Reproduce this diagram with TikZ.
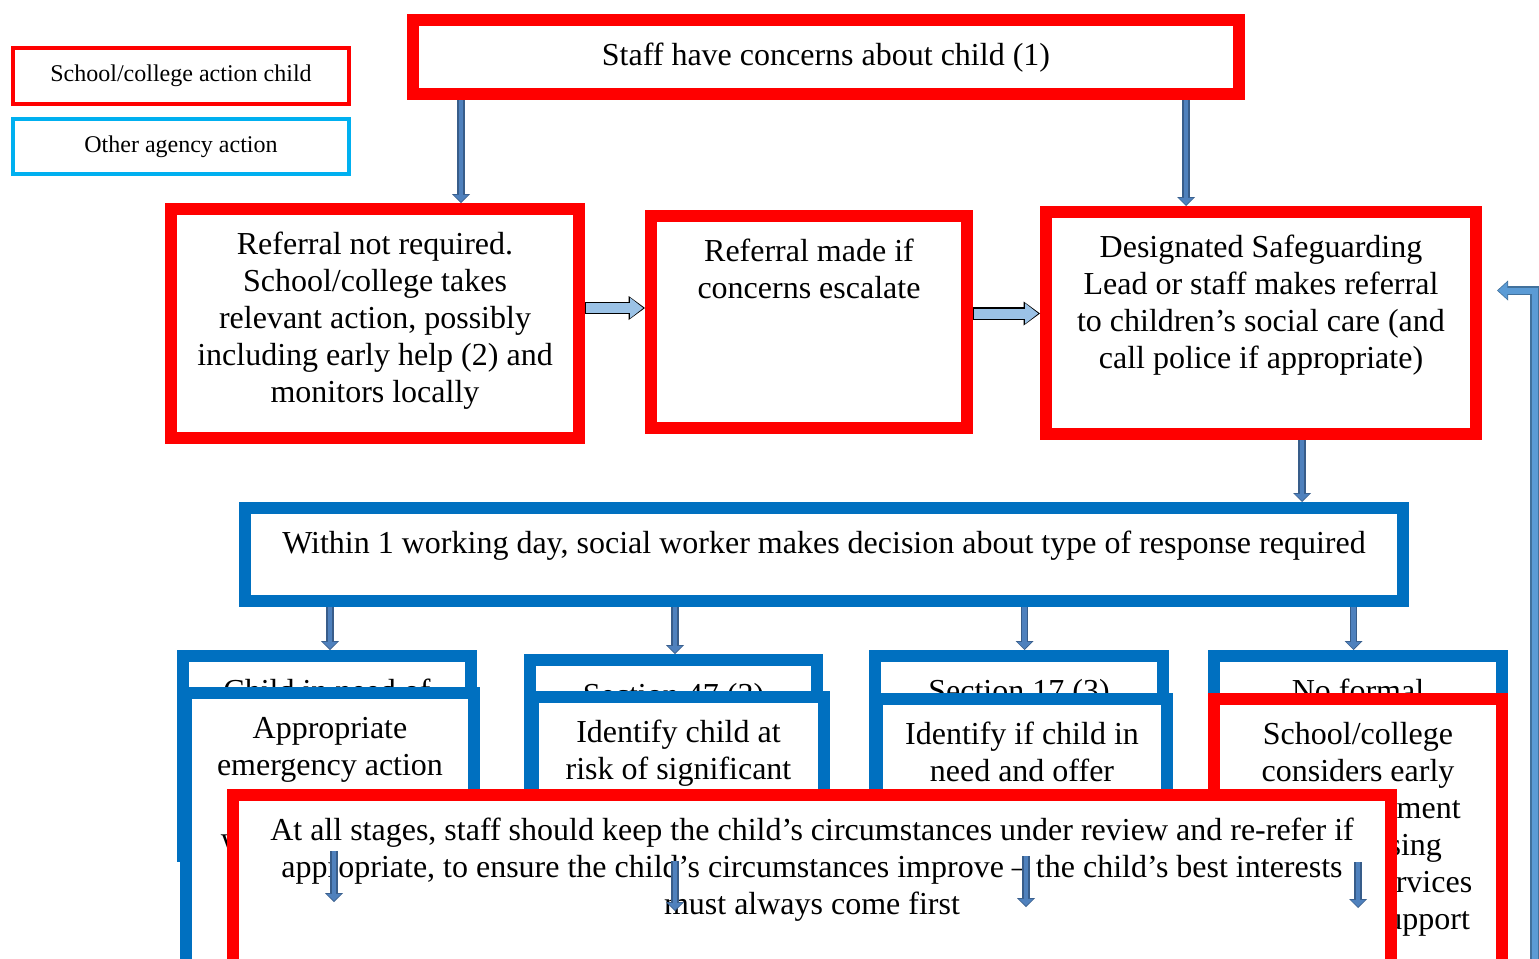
\documentclass[tikz,border=0pt]{standalone}
\usepackage{fontspec}
\setmainfont{Liberation Serif}
\usetikzlibrary{positioning,arrows.meta}

\definecolor{schoolred}{RGB}{255,0,0}
\definecolor{agencyblue}{RGB}{0,112,192}
\definecolor{legendcyan}{RGB}{0,176,240}
\definecolor{arrowfill}{RGB}{79,129,189}
\definecolor{arrowedge}{RGB}{56,93,138}
\definecolor{passfill}{RGB}{155,194,230}
\definecolor{loopfill}{RGB}{91,155,213}
\definecolor{loopedge}{RGB}{65,113,156}

\tikzset{
  redbox/.style={rectangle,draw=schoolred,line width=6pt,fill=white},
  bluebox/.style={rectangle,draw=agencyblue,line width=6pt,fill=white},
  keybox/.style={rectangle,line width=2pt,minimum width=168pt,font=\fontsize{12pt}{14pt}\selectfont},
  boxtext/.style={font=\fontsize{16pt}{18.5pt}\selectfont,align=center,inner sep=0pt},
  flowarrow/.style={draw=arrowfill,line width=2.4pt,shorten >=0.6pt,
    -{Triangle[width=7.4pt,length=3.5pt,line width=0pt]},
    preaction={draw=arrowedge,line width=3.6pt,shorten >=0pt,
      -{Triangle[width=9pt,length=4.5pt,line width=0pt]}}},
  passarrow/.style={draw=passfill,line width=5pt,shorten >=0.9pt,shorten <=0.6pt,
    -{Triangle[width=10.3pt,length=6.6pt,line width=0pt]},
    preaction={draw=black,line width=6.2pt,shorten >=0pt,shorten <=0pt,
      -{Triangle[width=12pt,length=8.2pt,line width=0pt]}}},
  loopback/.style={draw=loopfill,line width=3pt,line join=miter,shorten >=0.6pt,
    -{Triangle[width=8.5pt,length=4.6pt,line width=0pt]},
    preaction={draw=loopedge,line width=4.5pt,shorten >=0pt,
      -{Triangle[width=10pt,length=5.5pt,line width=0pt]}}}
}

\begin{document}
\begin{tikzpicture}[x=0.5pt,y=-0.5pt]
\useasboundingbox (0,0) rectangle (1539,959);
\clip (0,0) rectangle (1539,959);

% key
\node[keybox,draw=schoolred,minimum height=28pt] (keyschool) at (181,76) {School/college action child};
\node[keybox,draw=legendcyan,minimum height=27.5pt] (keyagency) at (181,146.5) {Other agency action};

% school/college action
\node[redbox,minimum width=413pt,minimum height=37pt] (concern) at (826,57) {};
\node[boxtext,below=12.5pt of concern.north] (concerntxt) {\strut Staff have concerns about child (1)};

\node[redbox,minimum width=204pt,minimum height=114.5pt] (refno) at (375,323.5) {};
\node[boxtext,below=12.5pt of refno.north] (refnotxt) {\strut Referral not required.\\School/college takes\\relevant action, possibly\\including early help (2) and\\monitors locally};

\node[redbox,minimum width=158pt,minimum height=106pt] (escal) at (809,322) {};
\node[boxtext,below=12.5pt of escal.north] (escaltxt) {\strut Referral made if\\concerns escalate};

\node[redbox,minimum width=215pt,minimum height=111pt] (dsl) at (1261,323) {};
\node[boxtext,below=12.5pt of dsl.north] (dsltxt) {\strut Designated Safeguarding\\Lead or staff makes referral\\to children’s social care (and\\call police if appropriate)};

\coordinate (leftdrop) at (461,0);
\coordinate (rightdrop) at (1186,0);
\coordinate (passa) at (0,308);
\coordinate (passb) at (0,313.5);
\draw[flowarrow] (concern.south -| leftdrop) -- (refno.north -| leftdrop);
\draw[flowarrow] (concern.south -| rightdrop) -- (dsl.north -| rightdrop);
\draw[passarrow] (refno.east |- passa) -- (escal.west |- passa);
\draw[passarrow] (escal.east |- passb) -- (dsl.west |- passb);

% other agency action
\node[bluebox,minimum width=579pt,minimum height=46.5pt] (sworker) at (824,554.5) {};
\node[boxtext,below=12.5pt of sworker.north] (sworkertxt) {\strut Within 1 working day, social worker makes decision about type of response required};

\coordinate (dsldrop) at (1302,0);
\draw[flowarrow] (dsl.south -| dsldrop) -- (sworker.north -| dsldrop);

\node[bluebox,minimum width=144pt,minimum height=100pt] (cneed) at (327,756) {};
\node[boxtext,below=12.5pt of cneed.north] (cneedtxt) {\strut Child in need of};
\node[bluebox,minimum width=143.5pt,minimum height=100pt] (sfortyseven) at (673.5,760) {};
\node[boxtext,below=12.5pt of sfortyseven.north] (sfortyseventxt) {\strut Section 47 (3)};
\node[bluebox,minimum width=144pt,minimum height=100pt] (sseventeen) at (1019,756) {};
\node[boxtext,below=12.5pt of sseventeen.north] (sseventeentxt) {\strut Section 17 (3)};
\node[bluebox,minimum width=144pt,minimum height=100pt] (noformal) at (1358,756) {};
\node[boxtext,below=12.5pt of noformal.north] (noformaltxt) {\strut No formal};

\coordinate (dropa) at (330,0);
\coordinate (dropb) at (675,0);
\coordinate (dropc) at (1024.5,0);
\coordinate (dropd) at (1353.5,0);
\draw[flowarrow] (sworker.south -| dropa) -- (cneed.north -| dropa);
\draw[flowarrow] (sworker.south -| dropb) -- (sfortyseven.north -| dropb);
\draw[flowarrow] (sworker.south -| dropc) -- (sseventeen.north -| dropc);
\draw[flowarrow] (sworker.south -| dropd) -- (noformal.north -| dropd);

\node[bluebox,minimum width=144pt,minimum height=150.5pt] (emergency) at (330,843.5) {};
\node[boxtext,below=12.5pt of emergency.north] (emergencytxt) {\strut Appropriate\\emergency action\\taken by social\\worker, police or\\NSPCC (4)};
\node[bluebox,minimum width=145.5pt,minimum height=148.5pt] (sigharm) at (678.5,845.5) {};
\node[boxtext,below=12.5pt of sigharm.north] (sigharmtxt) {\strut Identify child at\\risk of significant};
\node[bluebox,minimum width=145pt,minimum height=147.5pt] (offer) at (1022,846.5) {};
\node[boxtext,below=12.5pt of offer.north] (offertxt) {\strut Identify if child in\\need and offer};
\node[redbox,minimum width=144pt,minimum height=147.5pt] (earlyhelp) at (1358,846.5) {};
\node[boxtext,below=12.5pt of earlyhelp.north] (earlyhelptxt) {\strut School/college\\considers early\\help assessment\\(2) accessing\\universal services\\and other support};

\node[redbox,minimum width=579pt,minimum height=99.5pt] (review) at (812,894.5) {};
\node[boxtext,below=12.5pt of review.north] (reviewtxt) {\strut At all stages, staff should keep the child’s circumstances under review and re-refer if\\appropriate, to ensure the child’s circumstances improve -- the child’s best interests\\must always come first};

% stray arrows over the review box
\coordinate (stepa) at (334,851);   \coordinate (stepaend) at (334,902);
\coordinate (stepb) at (675,861);   \coordinate (stepbend) at (675,911);
\coordinate (stepc) at (1026,856);  \coordinate (stepcend) at (1026,907);
\coordinate (stepd) at (1358,862);  \coordinate (stepdend) at (1358,908);
\draw[flowarrow] (stepa) -- (stepaend);
\draw[flowarrow] (stepb) -- (stepbend);
\draw[flowarrow] (stepc) -- (stepcend);
\draw[flowarrow] (stepd) -- (stepdend);

% re-refer loop
\coordinate (rerefstart) at (1534.5,1000);
\coordinate (rerefend) at (1497,290.5);
\draw[loopback] (rerefstart) |- (rerefend);

\end{tikzpicture}
\end{document}
